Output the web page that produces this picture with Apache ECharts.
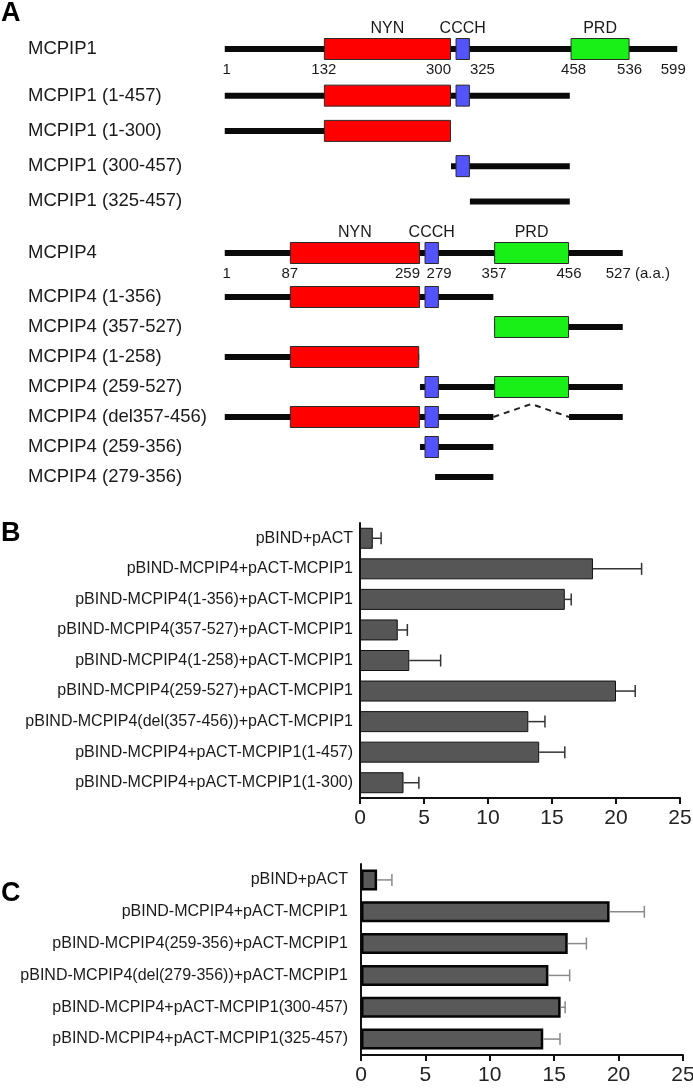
<!DOCTYPE html>
<html><head><meta charset="utf-8">
<script src="https://cdn.jsdelivr.net/npm/echarts@6/dist/echarts.min.js"></script>
<style>html,body{margin:0;padding:0;background:#fff}#chart{width:693px;height:1088px}</style>
</head><body><div id="chart"></div>
<script>
// ---------- Panel A data (amino-acid positions) ----------
const mcpip1Name = ['MCPIP1'];
const mcpip1Start = [1];
const mcpip1End = [599];
const mcpip1Ticks = [1, 132, 300, 325, 458, 536, 599];
const mcpip1DomainNames = ['NYN', 'CCCH', 'PRD'];
const mcpip1DomainStart = [132, 306, 458];
const mcpip1DomainEnd = [300, 325, 536];
const mcpip1Constructs = ['MCPIP1 (1-457)', 'MCPIP1 (1-300)', 'MCPIP1 (300-457)', 'MCPIP1 (325-457)'];
const mcpip1ConstructStart = [1, 1, 300, 325];
const mcpip1ConstructEnd = [457, 300, 457, 457];

const mcpip4Name = ['MCPIP4'];
const mcpip4Start = [1];
const mcpip4End = [527];
const mcpip4Ticks = [1, 87, 259, 279, 357, 456, 527];
const mcpip4DomainNames = ['NYN', 'CCCH', 'PRD'];
const mcpip4DomainStart = [87, 265, 357];
const mcpip4DomainEnd = [259, 284, 456];
const mcpip4Constructs = ['MCPIP4 (1-356)', 'MCPIP4 (357-527)', 'MCPIP4 (1-258)', 'MCPIP4 (259-527)', 'MCPIP4 (del357-456)', 'MCPIP4 (259-356)', 'MCPIP4 (279-356)'];
const mcpip4ConstructStart = [1, 357, 1, 259, 1, 259, 279];
const mcpip4ConstructEnd = [356, 527, 258, 527, 527, 356, 356];
const mcpip4DeletionStart = [null, null, null, null, 357, null, null];
const mcpip4DeletionEnd = [null, null, null, null, 456, null, null];
const unitSuffix = ' (a.a.)';

// ---------- Panel B data ----------
const bCategories = ['pBIND+pACT', 'pBIND-MCPIP4+pACT-MCPIP1', 'pBIND-MCPIP4(1-356)+pACT-MCPIP1', 'pBIND-MCPIP4(357-527)+pACT-MCPIP1', 'pBIND-MCPIP4(1-258)+pACT-MCPIP1', 'pBIND-MCPIP4(259-527)+pACT-MCPIP1', 'pBIND-MCPIP4(del(357-456))+pACT-MCPIP1', 'pBIND-MCPIP4+pACT-MCPIP1(1-457)', 'pBIND-MCPIP4+pACT-MCPIP1(1-300)'];
const bValues = [1.0, 18.2, 16.0, 2.95, 3.85, 20.0, 13.15, 14.0, 3.4];
const bErrors = [0.65, 3.8, 0.5, 0.75, 2.45, 1.5, 1.3, 2.0, 1.2];

// ---------- Panel C data ----------
const cCategories = ['pBIND+pACT', 'pBIND-MCPIP4+pACT-MCPIP1', 'pBIND-MCPIP4(259-356)+pACT-MCPIP1', 'pBIND-MCPIP4(del(279-356))+pACT-MCPIP1', 'pBIND-MCPIP4+pACT-MCPIP1(300-457)', 'pBIND-MCPIP4+pACT-MCPIP1(325-457)'];
const cValues = [1.25, 19.3, 16.05, 14.55, 15.5, 14.15];
const cErrors = [1.15, 2.7, 1.45, 1.65, 0.35, 1.3];

// ---------- styles ----------
const FONT = '"Liberation Sans", Arial, sans-serif';
const domainFill = { NYN: '#ff0000', CCCH: '#5353ff', PRD: '#18f018' };
const tickAlign1 = ['center', 'center', 'right', 'left', 'center', 'center', 'center'];
const tickShift1 = [2, 0, 0, 0, 3, 0, -4];
const tickAlign4 = ['center', 'center', 'right', 'center', 'center', 'center', 'left'];
const tickShift4 = [2, 0, 0, 4, 0, 0, -17];
const LINE_H = 6, BOX_H = 21;

function proteinRenderer(spec) {
  return function (params, api) {
    const i = params.dataIndex;
    const row = api.value(1);
    const y = api.coord([0, row])[1];
    const X = aa => api.coord([aa, row])[0];
    const s = spec.start[i], e = spec.end[i];
    const ds = spec.delStart ? spec.delStart[i] : null;
    const de = spec.delEnd ? spec.delEnd[i] : null;
    const kids = [];
    const seg = (a, b) => kids.push({ type: 'rect', shape: { x: X(a), y: y - LINE_H / 2, width: X(b) - X(a), height: LINE_H }, style: { fill: '#0a0a0a' } });
    if (ds != null) {
      seg(s, ds - 1); seg(de, e);
      kids.push({ type: 'polyline', shape: { points: [[X(ds - 1), y], [X((ds - 1 + de) / 2), y - 13], [X(de), y]] },
        style: { stroke: '#222', lineWidth: 2, lineDash: [6, 5], fill: null } });
    } else seg(s, e);
    spec.domStart.forEach((d0, k) => {
      const d1 = spec.domEnd[k], mid = (d0 + d1) / 2;
      if (mid < s || mid > e) return;
      if (ds != null && mid >= ds && mid <= de) return;
      const a = Math.max(d0, s), b = Math.min(d1, e);
      kids.push({ type: 'rect', shape: { x: X(a) + 0.5, y: y - BOX_H / 2, width: X(b) - X(a) - 1, height: BOX_H },
        style: { fill: domainFill[spec.domNames[k]], stroke: '#2a2a2a', lineWidth: 1 } });
      if (spec.ticks) {
        kids.push({ type: 'text', style: { text: spec.domNames[k], x: (X(d0) + X(d1)) / 2, y: y - 20, align: 'center', verticalAlign: 'middle', font: '16px ' + FONT, fill: '#1a1a1a' } });
      }
    });
    if (spec.ticks) {
      spec.ticks.forEach((t, k) => {
        const last = k === spec.ticks.length - 1;
        kids.push({ type: 'text', style: { text: String(t) + (last && spec.suffix ? spec.suffix : ''), x: X(t) + spec.shift[k], y: y + 21,
          align: spec.align[k], verticalAlign: 'middle', font: '15px ' + FONT, fill: '#1a1a1a' } });
      });
    }
    return { type: 'group', children: kids };
  };
}

function proteinGrid(top, height) {
  return { left: 224, width: 454, top: top, height: height, outerBoundsMode: 'none', containLabel: false };
}
function proteinY(idx, cats) {
  return { type: 'category', gridIndex: idx, data: cats, inverse: true,
    axisLine: { show: false }, axisTick: { show: false },
    axisLabel: { align: 'left', margin: 196, fontSize: 18.5, fontFamily: FONT, color: '#1a1a1a', interval: 0 } };
}
function proteinX(idx) { return { type: 'value', gridIndex: idx, min: 0, max: 600, show: false }; }
function proteinSeries(idx, names, spec) {
  return { type: 'custom', xAxisIndex: idx, yAxisIndex: idx, clip: false, silent: true,
    encode: { x: 0, y: 1 }, data: names.map((n, i) => [spec.start[i], i]), renderItem: proteinRenderer(spec) };
}

function barX(idx) {
  return { type: 'value', gridIndex: idx, min: 0, max: 25, interval: 5, splitLine: { show: false },
    axisLine: { show: true, lineStyle: { color: '#111', width: 2 } },
    axisTick: { show: true, length: 6, lineStyle: { color: '#111', width: 2 } },
    axisLabel: { fontSize: 21, fontFamily: FONT, color: '#222', margin: 10 } };
}
function barY(idx, cats, margin) {
  return { type: 'category', gridIndex: idx, data: cats, inverse: true,
    axisLine: { show: true, lineStyle: { color: '#111', width: 2 } }, axisTick: { show: false },
    axisLabel: { fontSize: 16, fontFamily: FONT, color: '#1a1a1a', margin: margin, interval: 0 } };
}
function errSeries(idx, vals, errs, color) {
  return { type: 'custom', xAxisIndex: idx, yAxisIndex: idx, silent: true, clip: false, z: 3,
    encode: { x: 0, y: 1 }, data: vals.map((v, i) => [v, i, errs[i]]),
    renderItem: function (params, api) {
      const p0 = api.coord([api.value(0), api.value(1)]);
      const p1 = api.coord([api.value(0) + api.value(2), api.value(1)]);
      const st = { stroke: color, lineWidth: 1.5 };
      return { type: 'group', children: [
        { type: 'line', shape: { x1: p0[0], y1: p0[1], x2: p1[0], y2: p1[1] }, style: st },
        { type: 'line', shape: { x1: p1[0], y1: p1[1] - 6, x2: p1[0], y2: p1[1] + 6 }, style: st } ] };
    } };
}

const chart = echarts.init(document.getElementById('chart'), null, { renderer: 'canvas' });
chart.setOption({
  backgroundColor: '#fff',
  animation: false,
  grid: [
    proteinGrid(38, 22),
    proteinGrid(78, 141),
    proteinGrid(242, 22),
    proteinGrid(282, 210),
    { left: 360, right: 13, top: 523, height: 275, outerBoundsMode: 'none', containLabel: false },
    { left: 361, right: 10, top: 864, height: 191, outerBoundsMode: 'none', containLabel: false }
  ],
  xAxis: [proteinX(0), proteinX(1), proteinX(2), proteinX(3), barX(4), barX(5)],
  yAxis: [proteinY(0, mcpip1Name), proteinY(1, mcpip1Constructs), proteinY(2, mcpip4Name), proteinY(3, mcpip4Constructs),
    barY(4, bCategories, 7), barY(5, cCategories, 13)],
  series: [
    proteinSeries(0, mcpip1Name, { start: mcpip1Start, end: mcpip1End, domNames: mcpip1DomainNames, domStart: mcpip1DomainStart, domEnd: mcpip1DomainEnd,
      ticks: mcpip1Ticks, align: tickAlign1, shift: tickShift1 }),
    proteinSeries(1, mcpip1Constructs, { start: mcpip1ConstructStart, end: mcpip1ConstructEnd, domNames: mcpip1DomainNames, domStart: mcpip1DomainStart, domEnd: mcpip1DomainEnd }),
    proteinSeries(2, mcpip4Name, { start: mcpip4Start, end: mcpip4End, domNames: mcpip4DomainNames, domStart: mcpip4DomainStart, domEnd: mcpip4DomainEnd,
      ticks: mcpip4Ticks, align: tickAlign4, shift: tickShift4, suffix: unitSuffix }),
    proteinSeries(3, mcpip4Constructs, { start: mcpip4ConstructStart, end: mcpip4ConstructEnd, delStart: mcpip4DeletionStart, delEnd: mcpip4DeletionEnd,
      domNames: mcpip4DomainNames, domStart: mcpip4DomainStart, domEnd: mcpip4DomainEnd }),
    { type: 'bar', xAxisIndex: 4, yAxisIndex: 4, data: bValues, barWidth: 21, silent: true,
      itemStyle: { color: '#565656', borderColor: '#111', borderWidth: 1 } },
    errSeries(4, bValues, bErrors, '#333'),
    { type: 'bar', xAxisIndex: 5, yAxisIndex: 5, data: cValues, barWidth: 21, silent: true,
      itemStyle: { color: '#595959', borderColor: '#050505', borderWidth: 2.5 } },
    errSeries(5, cValues, cErrors, '#8a8a8a')
  ],
  graphic: [
    { type: 'text', left: 1, top: 0, style: { text: 'A', font: 'bold 27px ' + FONT, fill: '#000' } },
    { type: 'text', left: 1, top: 520, style: { text: 'B', font: 'bold 27px ' + FONT, fill: '#000' } },
    { type: 'text', left: 1, top: 880, style: { text: 'C', font: 'bold 27px ' + FONT, fill: '#000' } }
  ]
});
</script></body></html>
